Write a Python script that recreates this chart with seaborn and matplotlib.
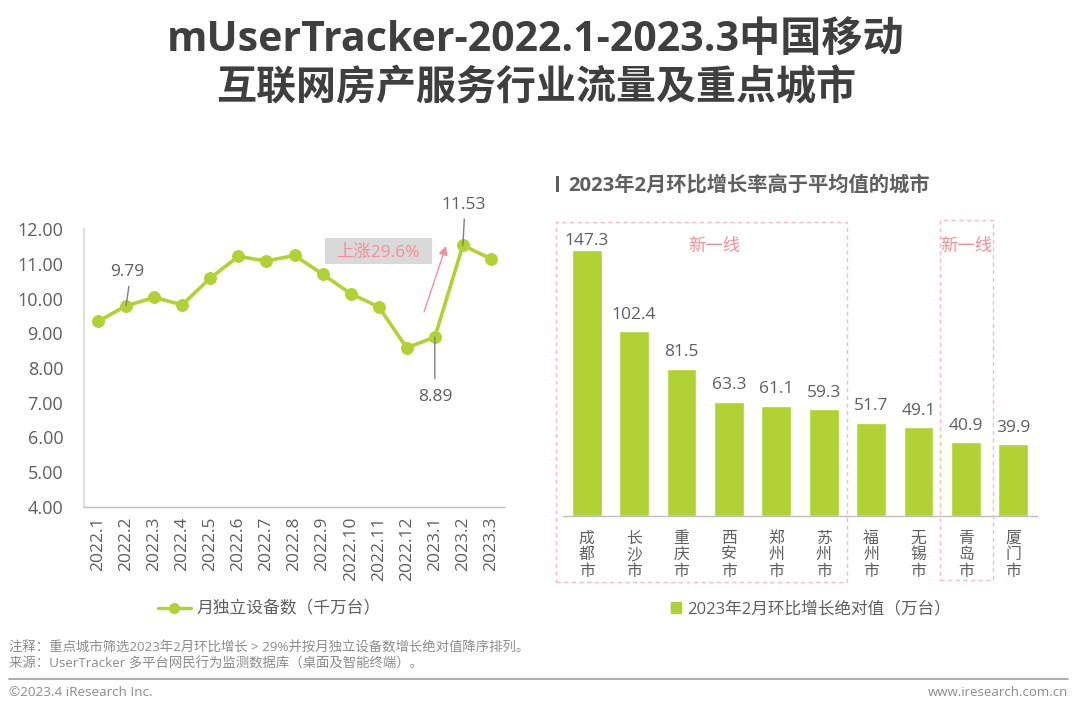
import matplotlib
matplotlib.use("Agg")
import matplotlib.pyplot as plt
from matplotlib.lines import Line2D
from matplotlib.patches import FancyArrowPatch, Rectangle
import pandas as pd
import seaborn as sns

# ── データ ──
months = ["2022.1", "2022.2", "2022.3", "2022.4", "2022.5", "2022.6", "2022.7", "2022.8",
          "2022.9", "2022.10", "2022.11", "2022.12", "2023.1", "2023.2", "2023.3"]
devices = [9.34, 9.79, 10.03, 9.82, 10.59, 11.21, 11.08, 11.24,
           10.70, 10.14, 9.76, 8.58, 8.89, 11.53, 11.14]
y_ticks = [4, 5, 6, 7, 8, 9, 10, 11, 12]
cities = ["成都市", "长沙市", "重庆市", "西安市", "郑州市", "苏州市", "福州市", "无锡市", "青岛市", "厦门市"]
growth = [147.3, 102.4, 81.5, 63.3, 61.1, 59.3, 51.7, 49.1, 40.9, 39.9]
line_name = "月独立设备数（千万台）"
bar_name = "2023年2月环比增长绝对值（万台）"

GREEN = "#b0d232"
TEXT = "#5f5f5f"
PINK = "#f58f98"
W, H = 1080, 713

sns.set_theme(style="white")
plt.rcParams["font.family"] = ["Open Sans", "Noto Sans CJK SC", "DejaVu Sans"]
plt.rcParams["text.color"] = TEXT
plt.rcParams["xtick.color"] = TEXT
plt.rcParams["ytick.color"] = TEXT


def px_axes(x0, y0, x1, y1):
    # ピクセル座標（上が0）で軸を作る
    return fig.add_axes([x0 / W, 1 - y1 / H, (x1 - x0) / W, (y1 - y0) / H])


def fig_text(x, y, s, **kw):
    kw.setdefault("va", "center")
    fig.text(x / W, 1 - y / H, s, **kw)


def fig_box(x0, y0, x1, y1, **kw):
    fig.add_artist(Rectangle((x0 / W, 1 - y1 / H), (x1 - x0) / W, (y1 - y0) / H,
                             transform=fig.transFigure, **kw))


fig = plt.figure(figsize=(W / 100, H / 100), dpi=100, facecolor="white")

# タイトル
fig_text(536, 40, "mUserTracker-2022.1-2023.3中国移动", ha="center", fontsize=29.6,
         fontweight="bold", color="#3f3f3f")
fig_text(536, 89, "互联网房产服务行业流量及重点城市", ha="center", fontsize=28.8,
         fontweight="bold", color="#3f3f3f")

# ── 左: 折れ線 ──
ax = px_axes(84, 229, 505, 507)
line_df = pd.DataFrame({"month": months, "devices": devices})
sns.lineplot(data=line_df, x="month", y="devices", ax=ax, color=GREEN, linewidth=2.6,
             marker="o", markersize=8.5, markeredgecolor=GREEN, sort=False, legend=False)
ax.set_xlim(-0.5, len(months) - 0.5)
ax.set_ylim(4, 12)
ax.set_yticks(y_ticks)
ax.set_yticklabels([f"{v:.2f}" for v in y_ticks], fontsize=13)
ax.set_xticks(range(len(months)))
ax.set_xticklabels(months, rotation=90, fontsize=12.5)
ax.tick_params(axis="both", length=0)
ax.tick_params(axis="x", pad=7)
ax.tick_params(axis="y", pad=15)
ax.set_xlabel("")
ax.set_ylabel("")
for side in ["top", "right"]:
    ax.spines[side].set_visible(False)
ax.spines["left"].set_color("#d9d9d9")
ax.spines["left"].set_linewidth(1.2)
ax.spines["bottom"].set_color("#bfbfbf")
ax.spines["bottom"].set_linewidth(1.0)

# 値ラベルと引き出し線（点からのオフセット、単位はpt）
callouts = [(1, 2, 14, 24), (12, 0, -30, -43.5), (13, 1, 19, 29)]
for idx, dx, dy, text_dy in callouts:
    xy = (idx, devices[idx])
    ax.annotate("", xy=xy, xytext=(dx, dy), textcoords="offset points",
                arrowprops=dict(arrowstyle="-", color="#7f7f7f", lw=1.0, shrinkA=0, shrinkB=0))
    ax.annotate(f"{devices[idx]:.2f}", xy=xy, xytext=(dx / 2, text_dy), textcoords="offset points",
                ha="center", va="center", fontsize=12.5, color=TEXT)

fig_box(325, 238, 432, 264, facecolor="#d9d9d9", edgecolor="none", zorder=3)
fig_text(378, 252.5, "上涨29.6%", ha="center", fontsize=12.5, color=PINK, zorder=4)
fig.add_artist(FancyArrowPatch(
    (424 / W, 1 - 312 / H), (446 / W, 1 - 246 / H), transform=fig.transFigure,
    arrowstyle="-|>", mutation_scale=13, color=PINK, lw=1.0, shrinkA=0, shrinkB=0))

handle = Line2D([], [], color=GREEN, lw=2.4, marker="o", markersize=7)
fig.legend([handle], [line_name], loc="center", bbox_to_anchor=(269 / W, 1 - 609.5 / H), frameon=False,
           fontsize=12.1, handlelength=2.0, handletextpad=0.3, labelcolor=TEXT)

# ── 右: 棒グラフ ──
fig.add_artist(Rectangle((556 / W, 1 - 192 / H), 3 / W, 16 / H, transform=fig.transFigure,
                         facecolor=TEXT, edgecolor="none"))
fig_text(568, 185.5, "2023年2月环比增长率高于平均值的城市", fontsize=14.6, fontweight="bold", color=TEXT)

ax2 = px_axes(563, 227, 1037, 516)
bar_df = pd.DataFrame({"city": cities, "growth": growth})
sns.barplot(data=bar_df, x="city", y="growth", ax=ax2, color=GREEN, width=0.63, saturation=1)
ax2.set_ylim(0, 160)
ax2.set_xlim(-0.5, len(cities) - 0.5)
# 先頭の棒だけラベルが枠に近い
value_labels = [f"{v:.1f}" for v in growth]
ax2.bar_label(ax2.containers[0], labels=[value_labels[0]] + [""] * (len(growth) - 1),
              padding=0.5, fontsize=12.5, color=TEXT)
ax2.bar_label(ax2.containers[0], labels=[""] + value_labels[1:], padding=6, fontsize=12.5, color=TEXT)
ax2.set_xticks(range(len(cities)))
ax2.set_xticklabels(["\n".join(c) for c in cities], fontsize=11.4, linespacing=1.05)
ax2.tick_params(axis="x", length=0, pad=10.5)
ax2.set_yticks([])
ax2.set_xlabel("")
ax2.set_ylabel("")
for side in ["top", "right", "left"]:
    ax2.spines[side].set_visible(False)
ax2.spines["bottom"].set_color("#bfbfbf")
ax2.spines["bottom"].set_linewidth(1.0)

# 破線の枠
for x0, y0, x1, y1 in [(556, 222, 847, 582), (940, 220, 993, 580)]:
    fig_box(x0, y0, x1, y1, facecolor="none", edgecolor="#fbb9c0", lw=1.0, linestyle=(0, (3, 2.5)))
fig_text(714, 247, "新一线", ha="center", fontsize=12.5, color=PINK)
fig_text(966, 247, "新一线", ha="center", fontsize=12.5, color=PINK)

fig.legend([Rectangle((0, 0), 1, 1, color=GREEN)], [bar_name], loc="center",
           bbox_to_anchor=(811 / W, 1 - 609.5 / H), frameon=False, fontsize=12,
           handlelength=0.62, handleheight=0.62, handletextpad=0.35, labelcolor=TEXT)

# ── フッター ──
fig_text(9, 647.5, "注释：重点城市筛选2023年2月环比增长 > 29%并按月独立设备数增长绝对值降序排列。", fontsize=9.65, color="#8c8c8c")
fig_text(9, 663.5, "来源：UserTracker 多平台网民行为监测数据库（桌面及智能终端）。", fontsize=9.65, color="#8c8c8c")
fig.add_artist(Line2D([9 / W, 1068 / W], [1 - 679 / H] * 2, color="#a6a6a6", lw=1.3))
fig_text(9, 692, "©2023.4 iResearch Inc.", fontsize=9.7, color="#8c8c8c")
fig_text(1068, 692, "www.iresearch.com.cn", ha="right", fontsize=9.5, color="#8c8c8c")

fig.savefig("out.png", dpi=100)
